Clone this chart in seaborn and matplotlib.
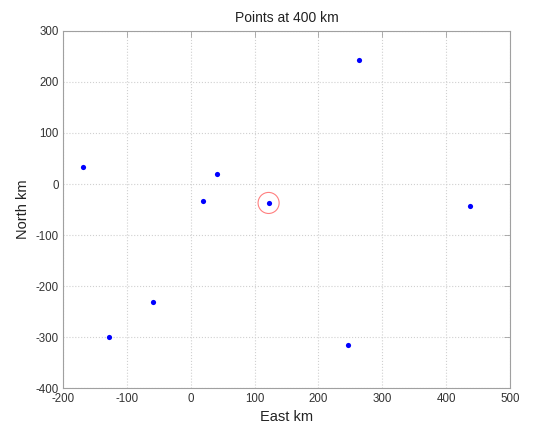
import numpy as np
import pandas as pd
import seaborn as sns
import matplotlib.pyplot as plt

# point positions
east = [-169, 42, 20, 122, 438, 263, -59, -128, 246]
north = [33, 19, -33, -37, -42, 242, -230, -299, -314]

# highlighted point (circled)
target_east = [122]
target_north = [-37]

sns.set_style("white")
plt.rcParams['font.family'] = ['Liberation Sans', 'DejaVu Sans']
plt.rcParams['axes.unicode_minus'] = False

df = pd.DataFrame({"East km": east, "North km": north})
target = pd.DataFrame({"East km": target_east, "North km": target_north})

fig = plt.figure(figsize=(5.33, 4.23), dpi=100)
ax = fig.add_axes([0.118, 0.0816, 0.839, 0.8458])

sns.scatterplot(data=df, x="East km", y="North km", color="#0000ff",
                s=14, edgecolor="#0000ff", linewidth=0, ax=ax, zorder=3)
ax.scatter(target["East km"], target["North km"], s=230, facecolors="none",
           edgecolors="#ff0000", linewidths=0.8, alpha=0.5, zorder=4)

ax.set_xlim(-200, 500)
ax.set_ylim(-400, 300)
ax.set_xticks(np.arange(-200, 501, 100))
ax.set_yticks(np.arange(-400, 301, 100))
ax.grid(True, color="#d0d0d0", linestyle=":", linewidth=0.8)
ax.set_axisbelow(True)
for sp in ax.spines.values():
    sp.set_color("#a0a0a0")
    sp.set_linewidth(0.8)
ax.tick_params(direction="in", length=4, width=0.6, color="#a0a0a0",
               labelsize=8.3, labelcolor="#333333", top=True, right=True)
ax.tick_params(axis="x", pad=3.5)
ax.tick_params(axis="y", pad=3)

ax.set_title("Points at 400 km", fontsize=10, color="#222222", pad=6)
ax.set_xlabel("East km", fontsize=10.5, color="#222222", labelpad=3)
ax.set_ylabel("North km", fontsize=10.5, color="#222222", labelpad=4)

fig.savefig("out.png", dpi=100)
